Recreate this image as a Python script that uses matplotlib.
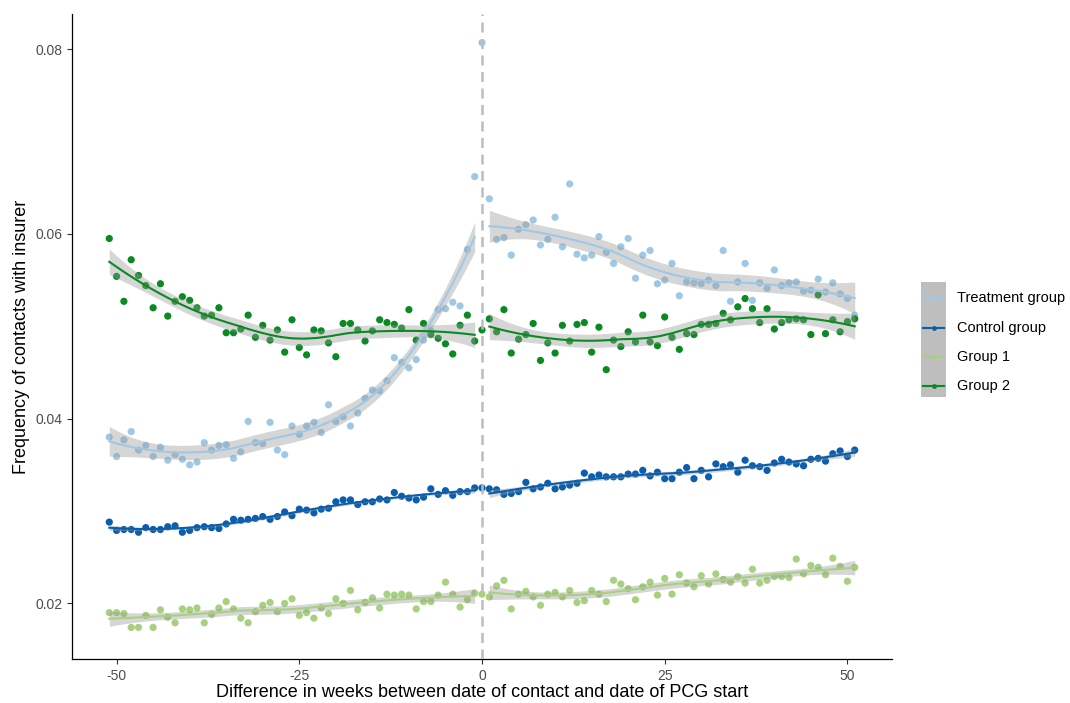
import numpy as np
import matplotlib as mpl
mpl.use('Agg')
import matplotlib.pyplot as plt
from matplotlib.lines import Line2D
from matplotlib.patches import Rectangle

plt.rcParams['font.family'] = ['Liberation Sans', 'DejaVu Sans']

# Weekly contact frequency, weeks -51..-1 (before), week 0, weeks 1..51 (after)
weeks_before = np.arange(-51, 0)
weeks_after = np.arange(1, 52)

treat_before = [0.0380, 0.0359, 0.0377, 0.0386, 0.0366, 0.0371, 0.0359, 0.0369, 0.0355, 0.0361,
                0.0356, 0.0350, 0.0353, 0.0374, 0.0366, 0.0371, 0.0372, 0.0357, 0.0364, 0.0397,
                0.0374, 0.0373, 0.0396, 0.0366, 0.0361, 0.0392, 0.0383, 0.0392, 0.0396, 0.0385,
                0.0415, 0.0397, 0.0402, 0.0392, 0.0406, 0.0422, 0.0431, 0.0430, 0.0441, 0.0466,
                0.0461, 0.0455, 0.0464, 0.0485, 0.0495, 0.0518, 0.0519, 0.0526, 0.0522, 0.0583, 0.0662]
treat_zero = 0.0807
treat_after = [0.0638, 0.0594, 0.0596, 0.0577, 0.0605, 0.0610, 0.0615, 0.0588, 0.0594, 0.0618,
               0.0586, 0.0654, 0.0578, 0.0574, 0.0577, 0.0597, 0.0580, 0.0568, 0.0586, 0.0595,
               0.0552, 0.0577, 0.0582, 0.0546, 0.0550, 0.0568, 0.0533, 0.0548, 0.0547, 0.0546,
               0.0550, 0.0544, 0.0582, 0.0527, 0.0548, 0.0568, 0.0528, 0.0547, 0.0541, 0.0561,
               0.0544, 0.0547, 0.0548, 0.0538, 0.0539, 0.0551, 0.0537, 0.0547, 0.0535, 0.0530, 0.0512]

ctrl_before = [0.0288, 0.0279, 0.0280, 0.0280, 0.0277, 0.0282, 0.0280, 0.0280, 0.0283, 0.0284,
               0.0277, 0.0279, 0.0282, 0.0283, 0.0282, 0.0281, 0.0286, 0.0291, 0.0290, 0.0291,
               0.0292, 0.0294, 0.0291, 0.0294, 0.0299, 0.0295, 0.0302, 0.0301, 0.0298, 0.0302,
               0.0303, 0.0310, 0.0312, 0.0312, 0.0307, 0.0310, 0.0310, 0.0313, 0.0312, 0.0320,
               0.0316, 0.0314, 0.0312, 0.0315, 0.0324, 0.0318, 0.0322, 0.0317, 0.0321, 0.0321, 0.0325]
ctrl_zero = 0.0325
ctrl_after = [0.0324, 0.0323, 0.0318, 0.0319, 0.0321, 0.0331, 0.0324, 0.0326, 0.0330, 0.0324,
              0.0326, 0.0328, 0.0330, 0.0341, 0.0337, 0.0339, 0.0337, 0.0337, 0.0337, 0.0340,
              0.0340, 0.0344, 0.0338, 0.0342, 0.0335, 0.0335, 0.0342, 0.0347, 0.0335, 0.0344,
              0.0337, 0.0351, 0.0348, 0.0350, 0.0342, 0.0355, 0.0349, 0.0348, 0.0344, 0.0352,
              0.0356, 0.0353, 0.0351, 0.0349, 0.0356, 0.0357, 0.0354, 0.0362, 0.0365, 0.0359, 0.0366]

g1_before = [0.0190, 0.0190, 0.0189, 0.0174, 0.0174, 0.0187, 0.0174, 0.0193, 0.0185, 0.0179,
             0.0194, 0.0193, 0.0195, 0.0179, 0.0188, 0.0195, 0.0202, 0.0194, 0.0184, 0.0179,
             0.0191, 0.0198, 0.0201, 0.0191, 0.0200, 0.0205, 0.0187, 0.0190, 0.0184, 0.0195,
             0.0189, 0.0205, 0.0200, 0.0214, 0.0193, 0.0201, 0.0206, 0.0195, 0.0210, 0.0209,
             0.0210, 0.0209, 0.0194, 0.0202, 0.0202, 0.0209, 0.0223, 0.0210, 0.0196, 0.0204, 0.0211]
g1_zero = 0.0210
g1_after = [0.0207, 0.0219, 0.0225, 0.0194, 0.0210, 0.0213, 0.0207, 0.0198, 0.0210, 0.0212,
            0.0207, 0.0214, 0.0201, 0.0203, 0.0214, 0.0210, 0.0202, 0.0225, 0.0221, 0.0216,
            0.0204, 0.0218, 0.0223, 0.0209, 0.0227, 0.0210, 0.0231, 0.0222, 0.0218, 0.0230,
            0.0221, 0.0232, 0.0226, 0.0223, 0.0229, 0.0222, 0.0237, 0.0222, 0.0225, 0.0229,
            0.0229, 0.0228, 0.0248, 0.0232, 0.0241, 0.0239, 0.0231, 0.0249, 0.0240, 0.0224, 0.0239]

g2_before = [0.0595, 0.0554, 0.0527, 0.0572, 0.0555, 0.0544, 0.0520, 0.0546, 0.0511, 0.0527,
             0.0532, 0.0528, 0.0520, 0.0511, 0.0512, 0.0520, 0.0493, 0.0493, 0.0497, 0.0512,
             0.0488, 0.0501, 0.0485, 0.0496, 0.0472, 0.0507, 0.0477, 0.0469, 0.0496, 0.0495,
             0.0482, 0.0467, 0.0503, 0.0503, 0.0496, 0.0484, 0.0495, 0.0507, 0.0504, 0.0502,
             0.0498, 0.0518, 0.0485, 0.0503, 0.0491, 0.0487, 0.0481, 0.0470, 0.0501, 0.0512, 0.0484]
g2_zero = 0.0496
g2_after = [0.0508, 0.0494, 0.0518, 0.0471, 0.0486, 0.0491, 0.0503, 0.0463, 0.0482, 0.0471,
            0.0501, 0.0484, 0.0502, 0.0504, 0.0472, 0.0499, 0.0453, 0.0485, 0.0478, 0.0494,
            0.0483, 0.0512, 0.0483, 0.0479, 0.0510, 0.0488, 0.0475, 0.0492, 0.0491, 0.0502,
            0.0502, 0.0503, 0.0514, 0.0507, 0.0521, 0.0530, 0.0519, 0.0504, 0.0519, 0.0497,
            0.0504, 0.0507, 0.0508, 0.0507, 0.0491, 0.0534, 0.0492, 0.0507, 0.0494, 0.0505, 0.0508]

groups = ['Treatment group', 'Control group', 'Group 1', 'Group 2']
colors = ['#9fc8e6', '#0b5dad', '#a8d17f', '#0a8a22']
before = [treat_before, ctrl_before, g1_before, g2_before]
zero = [treat_zero, ctrl_zero, g1_zero, g2_zero]
after = [treat_after, ctrl_after, g1_after, g2_after]


def loess(x, y, xs, span=0.75):
    # local quadratic fit with tricube weights, plus pointwise standard errors
    x = np.asarray(x, float)
    y = np.asarray(y, float)
    n = len(x)
    q = int(np.floor(n * span))

    def rows(pts):
        out = []
        for x0 in pts:
            d = np.abs(x - x0)
            h = np.sort(d)[q - 1]
            w = np.clip(1 - (d / h) ** 3, 0, None) ** 3
            X = np.column_stack([np.ones(n), x - x0, (x - x0) ** 2])
            XtW = X.T * w
            out.append(np.linalg.solve(XtW @ X, XtW)[0])
        return np.array(out)

    L = rows(x)
    resid = y - L @ y
    M = np.eye(n) - L
    delta1 = np.trace(M.T @ M)
    sigma = np.sqrt(np.sum(resid ** 2) / delta1)
    Ls = rows(xs)
    fit = Ls @ y
    se = sigma * np.sqrt(np.sum(Ls ** 2, axis=1))
    return fit, se


fig = plt.figure(figsize=(10.7, 7.03), dpi=100, facecolor='white')
ax = fig.add_axes([72 / 1070, 44 / 703, 820 / 1070, 645 / 703])

# Points first
for c, b, z, a in zip(colors, before, zero, after):
    ax.scatter(weeks_before, b, s=27, color=c, edgecolor='none', zorder=2)
    ax.scatter([0], [z], s=27, color=c, edgecolor='none', zorder=2)
    ax.scatter(weeks_after, a, s=27, color=c, edgecolor='none', zorder=2)

# Smoothers with 95% bands, separately before and after week 0
for c, b, a in zip(colors, before, after):
    for wk, vals in [(weeks_before, b), (weeks_after, a)]:
        xs = np.linspace(wk.min(), wk.max(), 80)
        fit, se = loess(wk, vals, xs)
        ax.fill_between(xs, fit - 2.01 * se, fit + 2.01 * se, color='#999999', alpha=0.4,
                        linewidth=0, zorder=3)
        ax.plot(xs, fit, color=c, linewidth=1.5, zorder=4)

ax.axvline(0, color='#bdbdbd', linestyle=(0, (4, 2.6)), linewidth=1.8, zorder=5)

ax.set_xlim(-56.1, 56.1)
ax.set_ylim(0.01398, 0.0838)
ax.set_xticks([-50, -25, 0, 25, 50])
ax.set_xticklabels(['-50', '-25', '0', '25', '50'])
ax.set_yticks([0.02, 0.04, 0.06, 0.08])
ax.set_yticklabels(['0.02', '0.04', '0.06', '0.08'])
ax.tick_params(axis='both', colors='#333333', labelcolor='#4d4d4d', labelsize=10, length=3.5, width=0.8)
for side in ['top', 'right']:
    ax.spines[side].set_visible(False)
for side in ['left', 'bottom']:
    ax.spines[side].set_color('black')
    ax.spines[side].set_linewidth(0.9)

ax.set_xlabel('Difference in weeks between date of contact and date of PCG start', fontsize=13, labelpad=1)
ax.set_ylabel('Frequency of contacts with insurer', fontsize=13, labelpad=4)

# Legend drawn by hand: grey key column, coloured line + dot, label
fig.patches.append(Rectangle((921 / 1070, 1 - 397 / 703), 25 / 1070, 115 / 703,
                             transform=fig.transFigure, facecolor='#bebebe', edgecolor='none'))
key_y = [298, 328, 357, 386]
for name, c, yy in zip(groups, colors, key_y):
    fy = 1 - yy / 703
    fig.lines.append(Line2D([923 / 1070, 944 / 1070], [fy, fy], transform=fig.transFigure,
                            color=c, linewidth=1.5))
    fig.lines.append(Line2D([933.5 / 1070], [fy], transform=fig.transFigure, color=c,
                            marker='o', markersize=3.5, markeredgewidth=0))
    fig.text(957 / 1070, fy, name, fontsize=10.5, va='center', ha='left', color='black')

plt.savefig('out.png', dpi=100)
plt.close()
